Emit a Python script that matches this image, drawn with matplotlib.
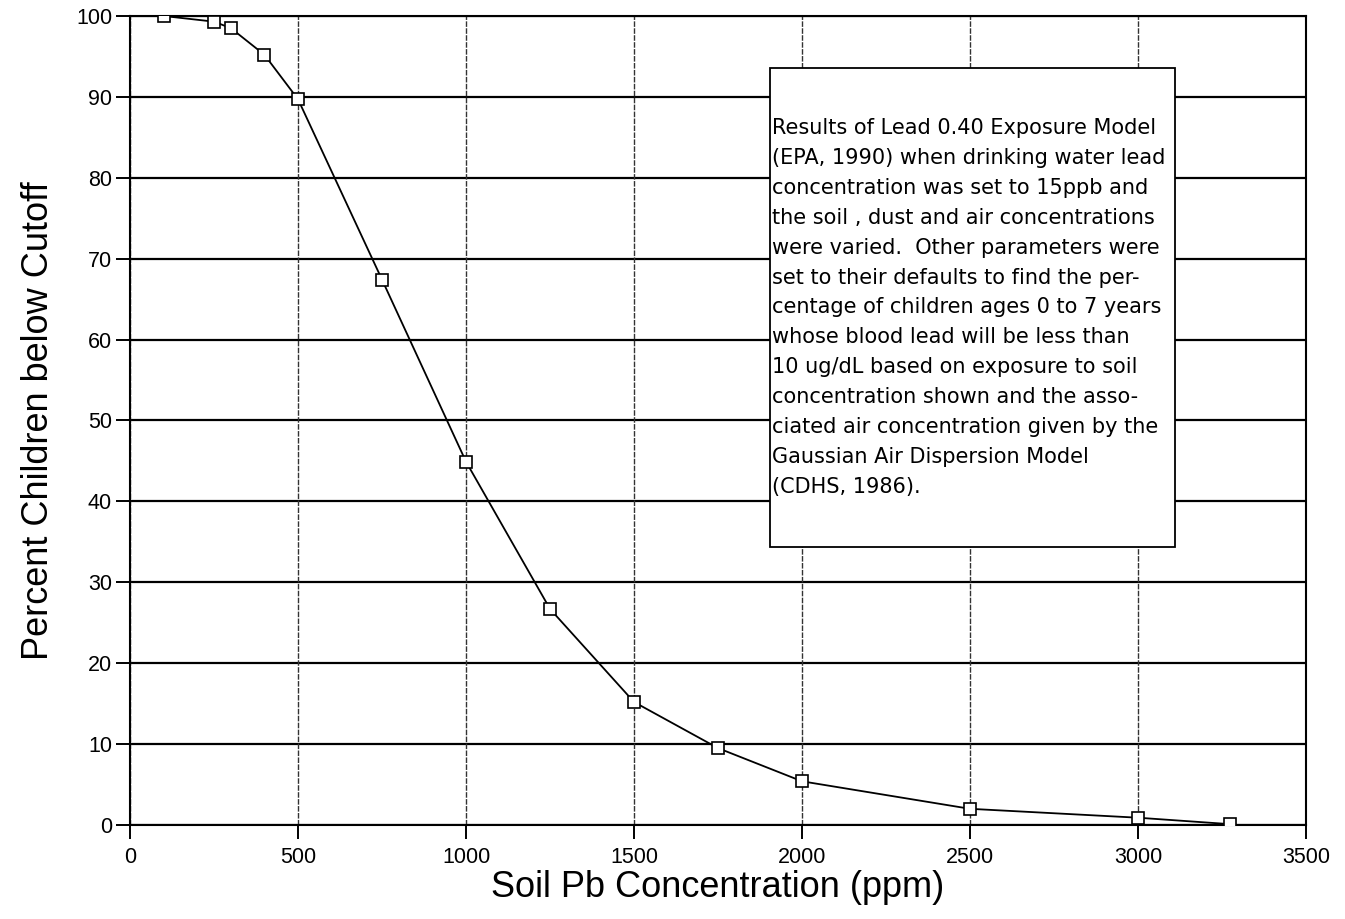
import matplotlib
matplotlib.use("Agg")
import matplotlib.pyplot as plt

# 土壤铅浓度 (ppm) 与低于阈值儿童百分比
soil_pb = [100, 250, 300, 400, 500, 750, 1000, 1250, 1500, 1750, 2000, 2500, 3000, 3275]
pct_below = [100, 99.3, 98.5, 95.2, 89.7, 67.4, 44.9, 26.7, 15.2, 9.5, 5.4, 2.0, 0.9, 0.1]

x_ticks = [0, 500, 1000, 1500, 2000, 2500, 3000, 3500]
y_ticks = [0, 10, 20, 30, 40, 50, 60, 70, 80, 90, 100]

note = ("Results of Lead 0.40 Exposure Model\n"
        "(EPA, 1990) when drinking water lead\n"
        "concentration was set to 15ppb and\n"
        "the soil , dust and air concentrations\n"
        "were varied.  Other parameters were\n"
        "set to their defaults to find the per-\n"
        "centage of children ages 0 to 7 years\n"
        "whose blood lead will be less than\n"
        "10 ug/dL based on exposure to soil\n"
        "concentration shown and the asso-\n"
        "ciated air concentration given by the\n"
        "Gaussian Air Dispersion Model\n"
        "(CDHS, 1986).")

plt.rcParams['font.family'] = ['Liberation Sans', 'DejaVu Sans']

fig = plt.figure(figsize=(13.45, 9.19), dpi=100)
ax = fig.add_axes([0.0967, 0.1023, 0.8743, 0.8803])

# 网格线
for y in y_ticks:
    ax.axhline(y, color='black', lw=1.6, zorder=1)
for x in x_ticks:
    ax.axvline(x, color='#333333', lw=1.0, ls=(0, (4, 1)), zorder=1)

ax.plot(soil_pb, pct_below, color='black', lw=1.3, marker='s', markersize=9,
        markerfacecolor='white', markeredgecolor='black', markeredgewidth=1.2, zorder=3)

ax.set_xlim(0, 3500)
ax.set_ylim(0, 100)
ax.set_xticks(x_ticks)
ax.set_yticks(y_ticks)
ax.tick_params(direction='out', length=10, width=1.4, labelsize=15.5, pad=3)
ax.tick_params(axis='x', pad=6)
for s in ax.spines.values():
    s.set_linewidth(1.5)

ax.set_xlabel("Soil Pb Concentration (ppm)", fontsize=26, labelpad=1)
ax.set_ylabel("Percent Children below Cutoff", fontsize=26, labelpad=14)

# 说明文字框
ax.fill([1905, 3110, 3110, 1905], [34.4, 34.4, 93.6, 93.6], color='white',
        edgecolor='black', lw=1.3, zorder=4)
ax.text(1910, 87.4, note, fontsize=15, family='DejaVu Sans', ha='left', va='top',
        linespacing=1.62, zorder=5)

fig.savefig("out.png", dpi=100)
